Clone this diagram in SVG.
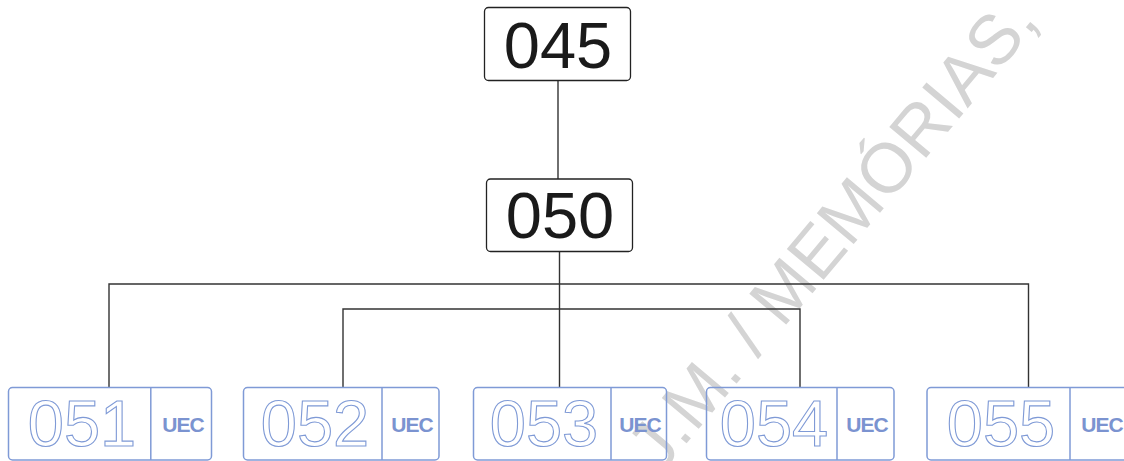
<svg xmlns="http://www.w3.org/2000/svg" width="1124" height="461" viewBox="0 0 1124 461">
<style>
.wm{font-family:"Liberation Sans",Arial,sans-serif;font-size:70px;fill:#d4d4d4}
.top rect{fill:#fff;stroke:#222;stroke-width:1.3}
.top text{font-family:"Liberation Sans",Arial,sans-serif;font-size:65px;fill:#1a1a1a;text-anchor:middle}
.uec rect,.uec line{fill:none;stroke:#7f9ad6;stroke-width:1.5}
.num{font-family:"Liberation Sans",Arial,sans-serif;font-size:65px;fill:#fff;stroke:#7f9ad6;stroke-width:1.1;text-anchor:middle}
.lbl{font-family:"Liberation Sans",Arial,sans-serif;font-size:21px;font-weight:bold;fill:#7b93d0;text-anchor:middle;letter-spacing:-1px}
#connectors{fill:none;stroke:#333;stroke-width:1.4}
</style>
<rect width="1124" height="461" fill="#fff"/>
<text class="wm" transform="translate(660,475) rotate(-50)">J.M. / MEMÓRIAS,</text>
<g id="connectors">
<path d="M558 80.5V179"/>
<path d="M559.5 251.5V387.5"/>
<path d="M109 387.5V284H1028.5V387.5"/>
<path d="M343 387.5V309H800V387.5"/>
</g>
<g id="n045" class="top"><rect x="484.5" y="7.5" width="146" height="73" rx="4"/><text x="558" y="68">045</text></g>
<g id="n050" class="top"><rect x="486.5" y="179" width="146" height="72.5" rx="4"/><text x="560" y="238">050</text></g>
<g id="n051" class="uec"><rect x="8.5" y="387.5" width="203" height="72.5" rx="4"/><line x1="150.8" y1="387.5" x2="150.8" y2="460"/><text class="num" x="82" y="446">051</text><text class="lbl" x="183" y="432">UEC</text></g>
<g id="n052" class="uec"><rect x="243.5" y="387.5" width="195.5" height="72.5" rx="4"/><line x1="382" y1="387.5" x2="382" y2="460"/><text class="num" x="315" y="446">052</text><text class="lbl" x="412" y="432">UEC</text></g>
<g id="n053" class="uec"><rect x="473.5" y="387.5" width="193" height="72.5" rx="4"/><line x1="611" y1="387.5" x2="611" y2="460"/><text class="num" x="544" y="446">053</text><text class="lbl" x="640" y="432">UEC</text></g>
<g id="n054" class="uec"><rect x="706.5" y="387.5" width="187.5" height="72.5" rx="4"/><line x1="837" y1="387.5" x2="837" y2="460"/><text class="num" x="774" y="446">054</text><text class="lbl" x="867" y="432">UEC</text></g>
<g id="n055" class="uec"><rect x="927" y="387.5" width="202" height="72.5" rx="4"/><line x1="1070" y1="387.5" x2="1070" y2="460"/><text class="num" x="1001" y="446">055</text><text class="lbl" x="1102" y="432">UEC</text></g>
</svg>
